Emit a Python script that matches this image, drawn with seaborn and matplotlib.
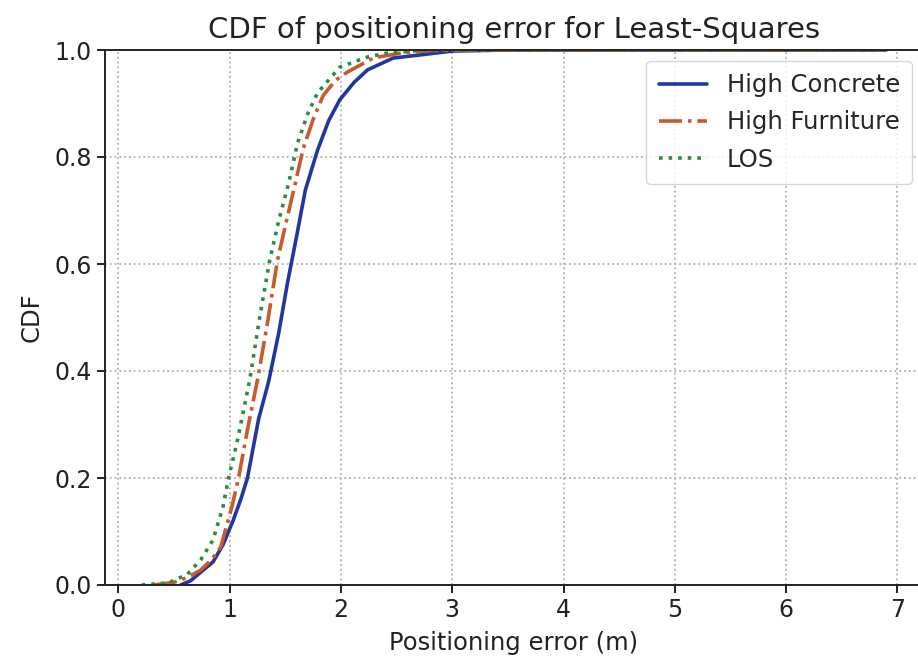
import matplotlib
matplotlib.use("Agg")
import matplotlib.pyplot as plt
import seaborn as sns
import pandas as pd

# Data (positioning error in m, CDF value)
concrete_x = [0.56, 0.65, 0.74, 0.85, 0.94, 1.03, 1.10, 1.16, 1.26, 1.35, 1.44, 1.52, 1.60, 1.68, 1.79, 1.89, 1.99, 2.12, 2.24, 2.47, 2.68, 3.00, 3.50, 5.00, 6.90]
concrete_y = [0.000, 0.008, 0.024, 0.043, 0.075, 0.120, 0.160, 0.200, 0.310, 0.380, 0.470, 0.565, 0.650, 0.738, 0.813, 0.868, 0.907, 0.940, 0.963, 0.985, 0.990, 0.998, 1.000, 1.000, 1.000]

furniture_x = [0.32, 0.50, 0.62, 0.74, 0.84, 0.92, 1.02, 1.08, 1.16, 1.25, 1.34, 1.43, 1.51, 1.59, 1.66, 1.75, 1.84, 1.95, 2.06, 2.29, 2.53, 2.80, 3.20, 5.00, 6.90]
furniture_y = [0.000, 0.005, 0.014, 0.028, 0.048, 0.071, 0.146, 0.200, 0.290, 0.383, 0.490, 0.607, 0.680, 0.751, 0.815, 0.870, 0.915, 0.943, 0.959, 0.985, 0.994, 0.999, 1.000, 1.000, 1.000]

los_x = [0.21, 0.45, 0.62, 0.74, 0.85, 0.94, 0.99, 1.07, 1.18, 1.27, 1.36, 1.44, 1.53, 1.61, 1.70, 1.79, 1.99, 2.24, 2.41, 2.70, 3.00, 5.00, 6.90]
los_y = [0.000, 0.004, 0.020, 0.047, 0.084, 0.146, 0.200, 0.270, 0.383, 0.500, 0.607, 0.680, 0.751, 0.826, 0.880, 0.920, 0.968, 0.987, 0.994, 0.999, 1.000, 1.000, 1.000]

labels = ["High Concrete", "High Furniture", "LOS"]
colors = ["#2137a0", "#c95a2c", "#2e8b3c"]
styles = ["-", "-.", ":"]

sns.set_theme(style="ticks")
plt.rcParams['font.family'] = ['DejaVu Sans']

fig = plt.figure(figsize=(9.18, 6.65), dpi=100)
ax = fig.add_axes([105/918, 80/665, (923-105)/918, 535/665])

series = [(concrete_x, concrete_y), (furniture_x, furniture_y), (los_x, los_y)]
for (xs, ys), lab, col, ls in zip(series, labels, colors, styles):
    df = pd.DataFrame({"x": xs, "y": ys})
    sns.lineplot(data=df, x="x", y="y", ax=ax, color=col, linestyle=ls,
                 linewidth=2.6, label=lab, sort=False)

ax.set_xlim(-0.12, 7.23)
ax.set_ylim(0, 1.0)
ax.set_xticks(range(0, 8))
ax.set_yticks([0.0, 0.2, 0.4, 0.6, 0.8, 1.0])
ax.set_yticklabels(["0.0", "0.2", "0.4", "0.6", "0.8", "1.0"])
ax.grid(True, linestyle=":", color="#b0b0b0", linewidth=1.3)
for s in ax.spines.values():
    s.set_color("#222222")
    s.set_linewidth(1.4)
ax.tick_params(labelsize=17, length=6, width=1.4, colors="#222222")
ax.set_xlabel("Positioning error (m)", fontsize=17.5, color="#222222", labelpad=6)
ax.set_ylabel("CDF", fontsize=17.5, color="#222222", labelpad=8)
ax.set_title("CDF of positioning error for Least-Squares", fontsize=21, color="#222222", pad=9)
leg = ax.legend(loc="upper right", fontsize=17.5, frameon=True, handlelength=2.0,
                borderaxespad=0.45, labelspacing=0.55, borderpad=0.5)
leg.get_frame().set_edgecolor("#cccccc")

fig.savefig("out.png", dpi=100)
